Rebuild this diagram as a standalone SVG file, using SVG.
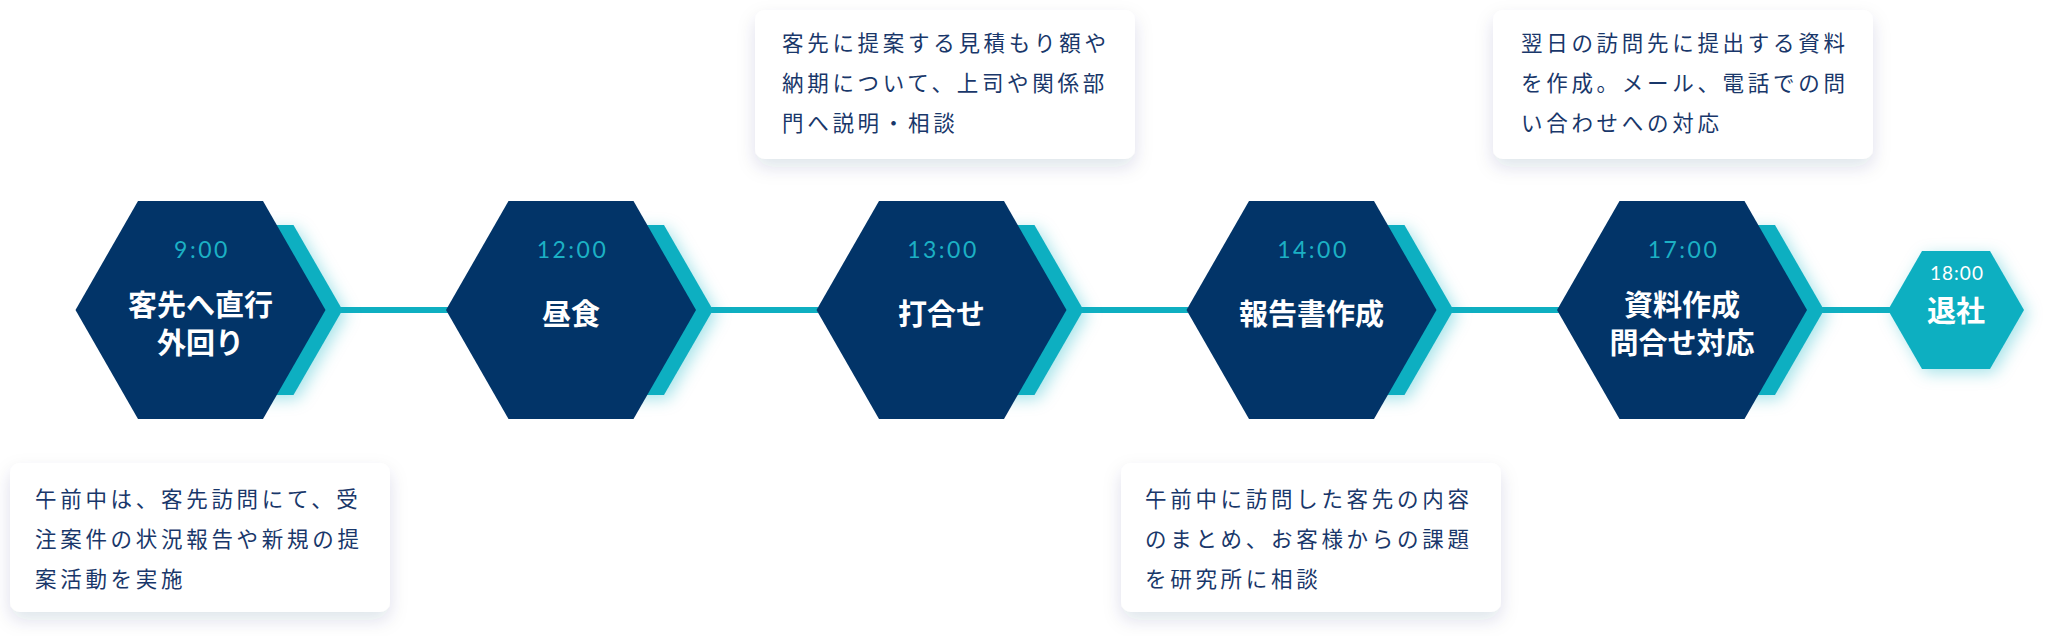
<svg xmlns="http://www.w3.org/2000/svg" width="2046" height="636" viewBox="0 0 2046 636">
<defs>
<filter id="glow" x="-40%" y="-40%" width="180%" height="180%">
<feDropShadow dx="4" dy="4" stdDeviation="8" flood-color="#0fafc1" flood-opacity="0.35"/>
</filter>
<filter id="boxsh" x="-10%" y="-20%" width="120%" height="150%">
<feDropShadow dx="0" dy="8" stdDeviation="9" flood-color="#1a3560" flood-opacity="0.13"/>
</filter>
<polygon id="navy" points="-125,310 -62.5,201 62.5,201 125,310 62.5,419 -62.5,419"/>
<polygon id="teal" points="-54,310 -5,225 93,225 142,310 93,395 -5,395"/>
</defs>
<style>
.navy{fill:#023468}
.teal{fill:#0fafc1}
.time{font-family:Lato,"Noto Sans",sans-serif;font-size:23px;fill:#1cb0c4;letter-spacing:2.5px;text-anchor:middle}
.lbl{font-family:"Noto Sans CJK JP",sans-serif;font-size:29px;font-weight:700;fill:#ffffff;text-anchor:middle}
.box{fill:#ffffff}
.desc{font-family:"Noto Sans CJK JP",sans-serif;font-size:21.5px;fill:#19376a;letter-spacing:3.7px}
.conn{stroke:#0fafc1;stroke-width:6;fill:none}
</style>
<rect width="2046" height="636" fill="#ffffff"/>
<g id="connectors">
<line class="conn" x1="340" y1="310" x2="448" y2="310"/>
<line class="conn" x1="710" y1="310" x2="818" y2="310"/>
<line class="conn" x1="1081" y1="310" x2="1188" y2="310"/>
<line class="conn" x1="1451" y1="310" x2="1559" y2="310"/>
<line class="conn" x1="1822" y1="310" x2="1890" y2="310"/>
</g>
<g id="node-0900">
<use href="#teal" class="teal" x="200.5" filter="url(#glow)"/>
<use href="#navy" class="navy" x="200.5"/>
<text class="time" x="202" y="258">9:00</text>
<text class="lbl" x="200.5" y="316">客先へ直行</text>
<text class="lbl" x="200.5" y="354">外回り</text>
</g>
<g id="node-1200">
<use href="#teal" class="teal" x="571" filter="url(#glow)"/>
<use href="#navy" class="navy" x="571"/>
<text class="time" x="572.5" y="258">12:00</text>
<text class="lbl" x="571" y="325">昼食</text>
</g>
<g id="node-1300">
<use href="#teal" class="teal" x="941.5" filter="url(#glow)"/>
<use href="#navy" class="navy" x="941.5"/>
<text class="time" x="943" y="258">13:00</text>
<text class="lbl" x="941.5" y="325">打合せ</text>
</g>
<g id="node-1400">
<use href="#teal" class="teal" x="1311.5" filter="url(#glow)"/>
<use href="#navy" class="navy" x="1311.5"/>
<text class="time" x="1313" y="258">14:00</text>
<text class="lbl" x="1311.5" y="325">報告書作成</text>
</g>
<g id="node-1700">
<use href="#teal" class="teal" x="1682" filter="url(#glow)"/>
<use href="#navy" class="navy" x="1682"/>
<text class="time" x="1683.5" y="258">17:00</text>
<text class="lbl" x="1682" y="316">資料作成</text>
<text class="lbl" x="1682" y="354">問合せ対応</text>
</g>
<g id="node-1800">
<polygon class="teal" filter="url(#glow)" points="1888,310 1922,251 1990,251 2024,310 1990,369 1922,369"/>
<text class="time" x="1957" y="280" style="font-size:19px;fill:#ffffff;letter-spacing:1px">18:00</text>
<text class="lbl" x="1956" y="322">退社</text>
</g>
<g id="note-0900">
<rect class="box" filter="url(#boxsh)" x="10" y="463" width="380" height="149" rx="10"/>
<text class="desc" x="35" y="507">午前中は、客先訪問にて、受</text>
<text class="desc" x="35" y="547">注案件の状況報告や新規の提</text>
<text class="desc" x="35" y="587">案活動を実施</text>
</g>
<g id="note-1300">
<rect class="box" filter="url(#boxsh)" x="755" y="10" width="380" height="149" rx="10"/>
<text class="desc" x="782" y="51">客先に提案する見積もり額や</text>
<text class="desc" x="782" y="91">納期について、上司や関係部</text>
<text class="desc" x="782" y="131">門へ説明・相談</text>
</g>
<g id="note-1400">
<rect class="box" filter="url(#boxsh)" x="1121" y="463" width="380" height="149" rx="10"/>
<text class="desc" x="1145" y="507">午前中に訪問した客先の内容</text>
<text class="desc" x="1145" y="547">のまとめ、お客様からの課題</text>
<text class="desc" x="1145" y="587">を研究所に相談</text>
</g>
<g id="note-1700">
<rect class="box" filter="url(#boxsh)" x="1493" y="10" width="380" height="149" rx="10"/>
<text class="desc" x="1521" y="51">翌日の訪問先に提出する資料</text>
<text class="desc" x="1521" y="91">を作成。メール、電話での問</text>
<text class="desc" x="1521" y="131">い合わせへの対応</text>
</g>
</svg>
